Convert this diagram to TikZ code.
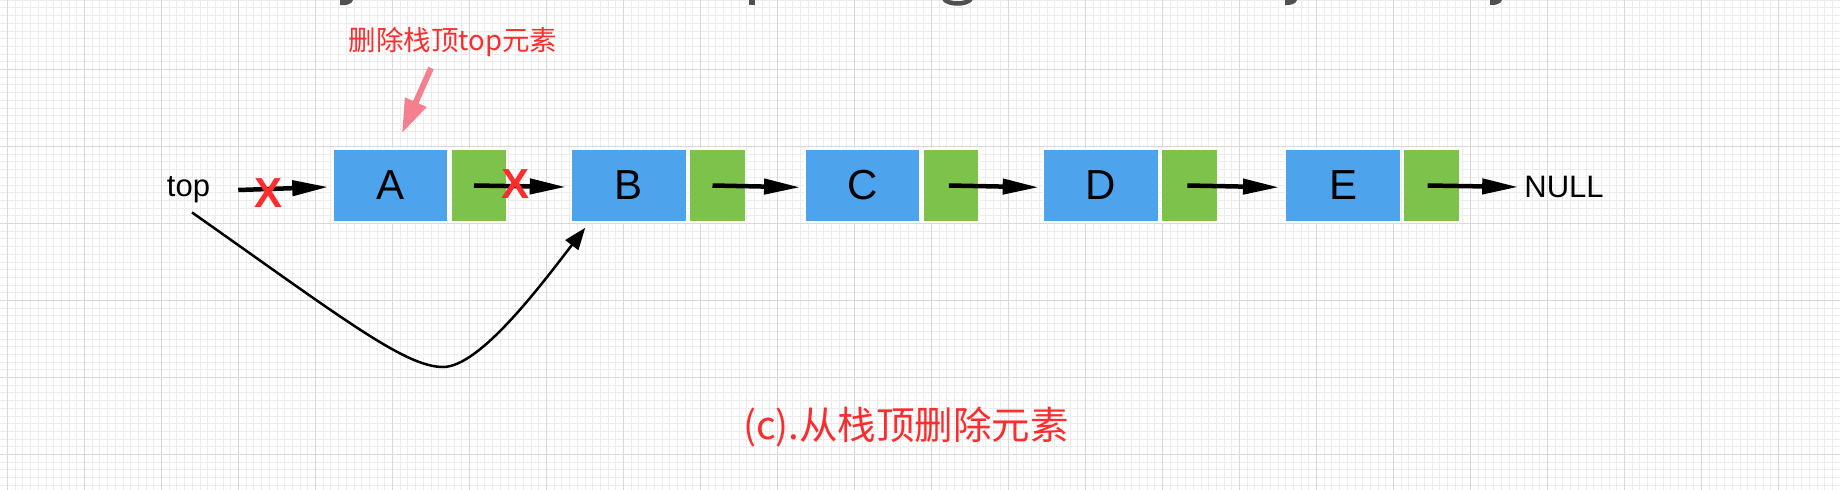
\documentclass[tikz,border=0pt]{standalone}
\usepackage{fontspec}
\setmainfont{Liberation Sans}
\newfontfamily\cjkf{Noto Sans CJK SC}
\usetikzlibrary{arrows.meta}
\definecolor{nodeblue}{RGB}{77,163,236}
\definecolor{nodegreen}{RGB}{125,194,75}
\definecolor{markred}{RGB}{255,45,45}
\definecolor{notepink}{RGB}{244,128,143}
\definecolor{gridminor}{RGB}{236,236,236}
\definecolor{gridmajor}{RGB}{216,216,216}
\definecolor{fraggray}{RGB}{80,80,80}
\begin{document}
\begin{tikzpicture}[x=1pt,y=-1pt,
  databox/.style={fill=nodeblue,draw=white,line width=1.5pt,minimum width=115pt,minimum height=73pt,inner sep=0pt,font=\fontsize{42}{50}\selectfont,text=black},
  ptrbox/.style={fill=nodegreen,draw=white,line width=1.5pt,minimum width=56pt,minimum height=73pt,inner sep=0pt,anchor=west},
  linkarrow/.style={line width=4.5pt,-{Triangle[length=36pt,width=15pt]}},
  crossmark/.style={text=markred,inner sep=0pt,font=\bfseries\fontsize{42}{50}\selectfont},
  plainlabel/.style={inner sep=0pt,font=\fontsize{31}{36}\selectfont},
  redtext/.style={text=markred,inner sep=0pt},
]
\useasboundingbox (0,0) rectangle (1840,490);
\fill[white] (0,0) rectangle (1840,490);
% grid
\foreach \i in {0,...,239} \draw[gridminor,line width=1pt] ({-0.2+7.7*\i},0) -- ({-0.2+7.7*\i},490);
\foreach \i in {0,...,63} \draw[gridminor,line width=1pt] (0,{0.2+7.7*\i}) -- (1840,{0.2+7.7*\i});
\foreach \k in {0,...,23} \draw[gridmajor,line width=1.2pt] ({7.5+77*\k},0) -- ({7.5+77*\k},490);
\foreach \k in {0,...,5} \draw[gridmajor,line width=1.2pt] (0,{69.5+77*\k}) -- (1840,{69.5+77*\k});
% fragments of cut-off text at top edge
\fill[fraggray] (340,0) -- (353,0) .. controls (352,4) and (346,6) .. (340,5) -- cycle;
\fill[fraggray] (749,0) rectangle (755,4.5);
\draw[fraggray,line width=4.5pt] (944,-1) .. controls (949,5) and (966,5) .. (971,-1);
\fill[fraggray] (1285,0) -- (1297,0) .. controls (1296,4) and (1290,5.5) .. (1285,5) -- cycle;
\fill[fraggray] (1490,0) -- (1502,0) .. controls (1501,4) and (1495,5.5) .. (1490,5) -- cycle;
% nodes
\node[databox] (A) at (390.5,185.5) {A};
\node[ptrbox] (Ap) at ([xshift=1.5pt]A.east) {};
\node[databox] (B) at (629,185.5) {B};
\node[ptrbox] (Bp) at ([xshift=1.5pt]B.east) {};
\node[databox] (C) at (862.3,185.5) {C};
\node[ptrbox] (Cp) at ([xshift=1.5pt]C.east) {};
\node[databox] (D) at (1100.9,185.5) {D};
\node[ptrbox] (Dp) at ([xshift=1.5pt]D.east) {};
\node[databox] (E) at (1343.2,185.5) {E};
\node[ptrbox] (Ep) at ([xshift=1.5pt]E.east) {};
\node[plainlabel] (top) at (188.5,190) {top};
\node[plainlabel] (null) at (1564,187) {NULL};
% links
\draw[linkarrow] ([xshift=28pt]top.east) -- ([xshift=-4pt,yshift=-1.5pt]A.west);
\draw[linkarrow] ([xshift=-5pt]Ap.center) -- ([xshift=-5pt,yshift=-1.5pt]B.west);
\draw[linkarrow] ([xshift=-5pt]Bp.center) -- ([xshift=-4pt,yshift=-1.8pt]C.west);
\draw[linkarrow] ([xshift=-2pt]Cp.center) -- ([xshift=-4pt,yshift=-1.8pt]D.west);
\draw[linkarrow] ([xshift=-2pt]Dp.center) -- ([xshift=-6pt,yshift=-1.8pt]E.west);
\draw[linkarrow] ([xshift=-4pt]Ep.center) -- ([xshift=-6pt]null.west);
% crosses
\node[crossmark] (x1) at (269,193) {X};
\node[crossmark] (x2) at (515.5,184) {X};
% curved new top link
\draw[line width=2.5pt,-{Triangle[length=22pt,width=16pt]}]
  ([xshift=3.5pt,yshift=-9pt]top.south) .. controls (342,318) and (405,367) .. (443,367)
  .. controls (480,367) and (541,285) .. ([xshift=14.5pt,yshift=-5pt]B.south west);
% note
\node[redtext,font={\cjkf\fontsize{27.5}{32}\selectfont}] (note) at (453,42) {删除栈顶top元素};
\coordinate (notetail) at (431,68);
\draw[notepink,line width=6pt,-{Triangle[length=34pt,width=22pt]}] (notetail) -- ([xshift=11.5pt,yshift=15pt]A.north);
% caption
\node[redtext,font={\cjkf\fontsize{38.5}{46}\selectfont}] (caption) at (906,427) {(c).从栈顶删除元素};
\end{tikzpicture}
\end{document}
